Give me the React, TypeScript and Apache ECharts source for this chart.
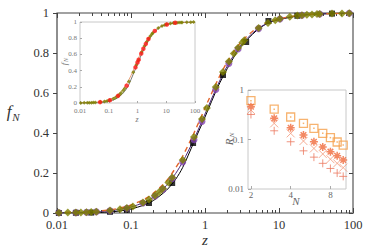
import React, { useEffect, useRef } from "react";
import * as echarts from "echarts";

// ---- main panel: curves f_N(z) ----
const zLine = [0.01, 0.02, 0.03, 0.05, 0.07, 0.1, 0.15, 0.2, 0.3, 0.4, 0.5, 0.7, 1, 1.5, 2, 3, 5, 7, 10, 20, 30, 50, 100];
const fBlack = [0, 0.001, 0.002, 0.005, 0.01, 0.02, 0.04, 0.062, 0.113, 0.168, 0.228, 0.35, 0.48, 0.632, 0.722, 0.828, 0.913, 0.948, 0.967, 0.988, 0.993, 0.997, 0.999];
const fPurple = [0.001, 0.003, 0.005, 0.011, 0.018, 0.03, 0.053, 0.079, 0.137, 0.197, 0.256, 0.364, 0.495, 0.643, 0.735, 0.836, 0.917, 0.949, 0.969, 0.989, 0.994, 0.997, 0.999];
const fDashed = [0.002, 0.005, 0.008, 0.015, 0.024, 0.04, 0.068, 0.098, 0.16, 0.225, 0.285, 0.395, 0.525, 0.668, 0.755, 0.85, 0.925, 0.953, 0.971, 0.99, 0.994, 0.997, 0.999];

// olive diamonds
const zOlive = [0.0106, 0.014, 0.018, 0.021, 0.025, 0.029, 0.034, 0.052, 0.071, 0.088, 0.106, 0.145, 0.175, 0.21, 0.24, 0.27, 0.32, 0.36, 0.5, 0.71, 0.91, 1.06, 1.4, 1.75, 2.1, 2.45, 2.8, 3.2, 3.4, 5.3, 7.1, 8.9, 10.3, 14, 17.7, 20.4, 23.8, 27.9, 32.6, 35.5, 52, 71, 89];
const fOlive = [0.001, 0.002, 0.002, 0.003, 0.004, 0.005, 0.006, 0.012, 0.019, 0.025, 0.033, 0.052, 0.068, 0.088, 0.105, 0.123, 0.153, 0.178, 0.265, 0.38, 0.47, 0.525, 0.63, 0.705, 0.757, 0.797, 0.826, 0.853, 0.864, 0.925, 0.95, 0.964, 0.971, 0.981, 0.987, 0.989, 0.991, 0.993, 0.995, 0.995, 0.997, 0.998, 0.999];

// purple circles
const zPurpleDots = [0.0106, 0.018, 0.025, 0.034, 0.052, 0.088, 0.145, 0.21, 0.27, 0.36, 0.5, 0.71, 0.91, 1.4, 2.1, 2.8, 5.3, 10.3, 20.4, 35.5, 89];
const fPurpleDots = [0.001, 0.002, 0.004, 0.006, 0.011, 0.024, 0.05, 0.084, 0.118, 0.172, 0.255, 0.366, 0.458, 0.618, 0.748, 0.82, 0.922, 0.97, 0.989, 0.995, 0.999];

// black squares
const zBlackSq = [0.0106, 0.018, 0.029, 0.052, 0.088, 0.175, 0.36, 0.69, 1.75, 3.6, 7.2, 17.7, 52];
const fBlackSq = [0, 0.001, 0.002, 0.006, 0.016, 0.05, 0.15, 0.35, 0.69, 0.855, 0.96, 0.986, 0.997];

// inset 1: red circles
const zRed = [0.05, 0.11, 0.21, 0.42, 0.85, 1.0, 1.1, 1.35, 1.6, 1.95, 2.4, 4.0, 10.5, 20.5];
const fRed = [0.011, 0.035, 0.088, 0.214, 0.44, 0.5, 0.535, 0.61, 0.67, 0.73, 0.79, 0.89, 0.97, 0.99];

// inset 2: R_N vs N
const nVals = [2, 3, 4, 5, 6, 7, 8, 9, 10];
const rSquare = [0.61, 0.41, 0.285, 0.212, 0.168, 0.133, 0.109, 0.089, 0.077];
const rStar = [0.46, 0.268, 0.173, 0.123, 0.09, 0.0705, 0.0567, 0.047, 0.0386];
const rCross = [0.394, 0.212, 0.133, 0.093, 0.066, 0.051, 0.04, 0.033, 0.027];
const rPlus = [0.32, 0.15, 0.09, 0.059, 0.044, 0.033, 0.026, 0.021, 0.018];

const mainXLabels = [0.01, 0.1, 1, 10, 100];
const insetNLabels = [2, 4, 8];

const SERIF = "'Liberation Serif', 'DejaVu Serif', serif";

const pairs = (xs: number[], ys: number[]) => xs.map((x, i) => [x, ys[i]]);

const minorTicks: number[] = [];
[0.01, 0.1, 1, 10].forEach((d) => {
  for (let k = 2; k <= 9; k++) minorTicks.push(+(d * k).toPrecision(3));
});

const STAR = "path://M5,0L5,10M0,5L10,5M1.5,1.5L8.5,8.5M8.5,1.5L1.5,8.5";
const CROSS = "path://M0,0L10,10M10,0L0,10";
const PLUS = "path://M5,0L5,10M0,5L10,5";

export default function App() {
  const ref = useRef<HTMLDivElement>(null);
  useEffect(() => {
    if (!ref.current) return;
    const chart = echarts.init(ref.current, undefined, { renderer: "svg" });
    const fmt = (v: number) => String(+v.toPrecision(6));
    const axisCommon = { splitLine: { show: false }, axisLine: { show: false, onZero: false } };
    const option: any = {
      animation: false,
      backgroundColor: "#fff",
      grid: [
        { left: 57, top: 13, width: 296, height: 200, show: true, borderColor: "#444", borderWidth: 1.2, backgroundColor: "transparent" },
        { left: 80, top: 22, width: 115, height: 81, show: true, borderColor: "#c8c8c8", borderWidth: 1, backgroundColor: "#fff" },
        { left: 248, top: 90, width: 98, height: 99, show: true, borderColor: "#c8c8c8", borderWidth: 1, backgroundColor: "#fff" },
      ],
      xAxis: [
        { ...axisCommon, gridIndex: 0, type: "log", min: 0.01, max: 100, position: "bottom",
          axisTick: { inside: true, length: 5, lineStyle: { color: "#444" } },
          axisLabel: { fontFamily: SERIF, fontSize: 12.5, color: "#333", margin: 5, formatter: fmt, customValues: mainXLabels } },
        { ...axisCommon, gridIndex: 0, type: "log", min: 0.01, max: 100, position: "bottom",
          axisTick: { inside: true, length: 3, customValues: minorTicks, lineStyle: { color: "#444" } }, axisLabel: { show: false } },
        { ...axisCommon, gridIndex: 0, type: "log", min: 0.01, max: 100, position: "top",
          axisTick: { inside: true, length: 5, lineStyle: { color: "#444" } }, axisLabel: { show: false } },
        { ...axisCommon, gridIndex: 0, type: "log", min: 0.01, max: 100, position: "top",
          axisTick: { inside: true, length: 3, customValues: minorTicks, lineStyle: { color: "#444" } }, axisLabel: { show: false } },
        { ...axisCommon, gridIndex: 1, type: "log", min: 0.01, max: 100, position: "bottom",
          axisTick: { inside: true, length: 2, lineStyle: { color: "#aaa" } },
          axisLabel: { fontFamily: SERIF, fontSize: 7, color: "#777", margin: 4, formatter: fmt, customValues: mainXLabels } },
        { ...axisCommon, gridIndex: 2, type: "log", min: 1.9, max: 10.5, position: "bottom",
          axisTick: { inside: true, length: 3, customValues: insetNLabels, lineStyle: { color: "#aaa" } },
          axisLabel: { fontFamily: SERIF, fontSize: 9, color: "#666", margin: 1, formatter: fmt, customValues: insetNLabels } },
      ],
      yAxis: [
        { ...axisCommon, gridIndex: 0, type: "value", min: 0, max: 1, interval: 0.2, position: "left",
          axisTick: { inside: false, length: 4, lineStyle: { color: "#444" } },
          axisLabel: { fontFamily: SERIF, fontSize: 12.5, color: "#333", margin: 8, formatter: fmt } },
        { ...axisCommon, gridIndex: 0, type: "value", min: 0, max: 1, interval: 0.2, position: "right",
          axisLine: { show: true, onZero: false, lineStyle: { color: "#999", width: 2 } },
          axisTick: { inside: true, length: 4, lineStyle: { color: "#444" } }, axisLabel: { show: false } },
        { ...axisCommon, gridIndex: 1, type: "value", min: 0, max: 1, interval: 0.2, position: "left",
          axisTick: { inside: true, length: 2, lineStyle: { color: "#aaa" } },
          axisLabel: { fontFamily: SERIF, fontSize: 7, color: "#777", margin: 3, formatter: fmt } },
        { ...axisCommon, gridIndex: 2, type: "log", min: 0.01, max: 1, position: "left",
          axisTick: { inside: true, length: 3, lineStyle: { color: "#aaa" } },
          axisLabel: { fontFamily: SERIF, fontSize: 9, color: "#666", margin: 4, formatter: fmt } },
      ],
      series: [
        // main panel
        { type: "line", xAxisIndex: 0, yAxisIndex: 0, data: pairs(zLine, fBlack), smooth: 0.3, showSymbol: false, lineStyle: { color: "#000", width: 1 }, z: 2 },
        { type: "line", xAxisIndex: 0, yAxisIndex: 0, data: pairs(zLine, fPurple), smooth: 0.3, showSymbol: false, lineStyle: { color: "#4b2a7a", width: 1 }, z: 2 },
        { type: "line", xAxisIndex: 0, yAxisIndex: 0, data: pairs(zLine, fDashed), smooth: 0.3, showSymbol: false, lineStyle: { color: "#e2642a", width: 1.4, type: [5, 4] }, z: 3 },
        { type: "scatter", xAxisIndex: 0, yAxisIndex: 0, data: pairs(zBlackSq, fBlackSq), symbol: "rect", symbolSize: 6, itemStyle: { color: "#000" }, z: 4 },
        { type: "scatter", xAxisIndex: 0, yAxisIndex: 0, data: pairs(zPurpleDots, fPurpleDots), symbol: "circle", symbolSize: 7, itemStyle: { color: "#8545b0" }, z: 5 },
        { type: "scatter", xAxisIndex: 0, yAxisIndex: 0, data: pairs(zOlive, fOlive), symbol: "diamond", symbolSize: 8, itemStyle: { color: "#7d7f00" }, z: 6 },
        // inset 1
        { type: "line", xAxisIndex: 4, yAxisIndex: 2, data: pairs(zLine, fBlack), smooth: 0.3, showSymbol: false, lineStyle: { color: "#555", width: 0.8 }, z: 10 },
        { type: "line", xAxisIndex: 4, yAxisIndex: 2, data: pairs(zLine, fDashed), smooth: 0.3, showSymbol: false, lineStyle: { color: "#e58a5a", width: 0.8 }, z: 10 },
        { type: "scatter", xAxisIndex: 4, yAxisIndex: 2, data: pairs(zOlive, fOlive), symbol: "diamond", symbolSize: 4, itemStyle: { color: "#7d7f00" }, z: 11 },
        { type: "scatter", xAxisIndex: 4, yAxisIndex: 2, data: pairs(zRed, fRed), symbol: "circle", symbolSize: 4.5, itemStyle: { color: "#ff1a1a" }, z: 12 },
        // inset 2
        { type: "scatter", xAxisIndex: 5, yAxisIndex: 3, data: pairs(nVals, rSquare), symbol: "rect", symbolSize: 8, itemStyle: { color: "transparent", borderColor: "#f5a04c", borderWidth: 1.3 }, z: 12 },
        { type: "scatter", xAxisIndex: 5, yAxisIndex: 3, data: pairs(nVals, rSquare), symbol: "rect", symbolSize: 1.5, itemStyle: { color: "#f5a04c" }, z: 12 },
        { type: "scatter", xAxisIndex: 5, yAxisIndex: 3, data: pairs(nVals, rStar), symbol: STAR, symbolSize: 8, itemStyle: { color: "transparent", borderColor: "#f06a3c", borderWidth: 1.5 }, z: 12 },
        { type: "scatter", xAxisIndex: 5, yAxisIndex: 3, data: pairs(nVals, rCross), symbol: CROSS, symbolSize: 8, itemStyle: { color: "transparent", borderColor: "#f49a7c", borderWidth: 1 }, z: 12 },
        { type: "scatter", xAxisIndex: 5, yAxisIndex: 3, data: pairs(nVals, rPlus), symbol: PLUS, symbolSize: 8, itemStyle: { color: "transparent", borderColor: "#ec7a62", borderWidth: 1 }, z: 12 },
      ],
      graphic: [
        { type: "text", x: 9, y: 111, style: { text: "f", font: `italic 17px ${SERIF}`, fill: "#333", align: "center", verticalAlign: "middle" } },
        { type: "text", x: 16, y: 117, style: { text: "N", font: `italic 11px ${SERIF}`, fill: "#333", align: "center", verticalAlign: "middle" } },
        { type: "text", x: 205, y: 240, style: { text: "z", font: `italic 15px ${SERIF}`, fill: "#333", align: "center", verticalAlign: "middle" } },
        // inset 1 labels
        { type: "text", x: 64, y: 64, rotation: Math.PI / 2, style: { text: "f", font: `italic 9px ${SERIF}`, fill: "#777", align: "center", verticalAlign: "middle" } },
        { type: "text", x: 66, y: 60, rotation: Math.PI / 2, style: { text: "N", font: `italic 6px ${SERIF}`, fill: "#777", align: "center", verticalAlign: "middle" } },
        { type: "text", x: 137, y: 119.5, style: { text: "z", font: `italic 8px ${SERIF}`, fill: "#777", align: "center", verticalAlign: "middle" } },
        // inset 2 labels
        { type: "text", x: 229, y: 142, rotation: Math.PI / 2, style: { text: "R", font: `italic 11px ${SERIF}`, fill: "#666", align: "center", verticalAlign: "middle" } },
        { type: "text", x: 232, y: 135, rotation: Math.PI / 2, style: { text: "N", font: `italic 7px ${SERIF}`, fill: "#666", align: "center", verticalAlign: "middle" } },
        { type: "text", x: 296, y: 201, style: { text: "N", font: `italic 11px ${SERIF}`, fill: "#666", align: "center", verticalAlign: "middle" } },
      ],
    };
    chart.setOption(option);
    return () => chart.dispose();
  }, []);
  return <div ref={ref} style={{ width: 374, height: 249, position: "absolute", left: 0, top: 0 }} />;
}
